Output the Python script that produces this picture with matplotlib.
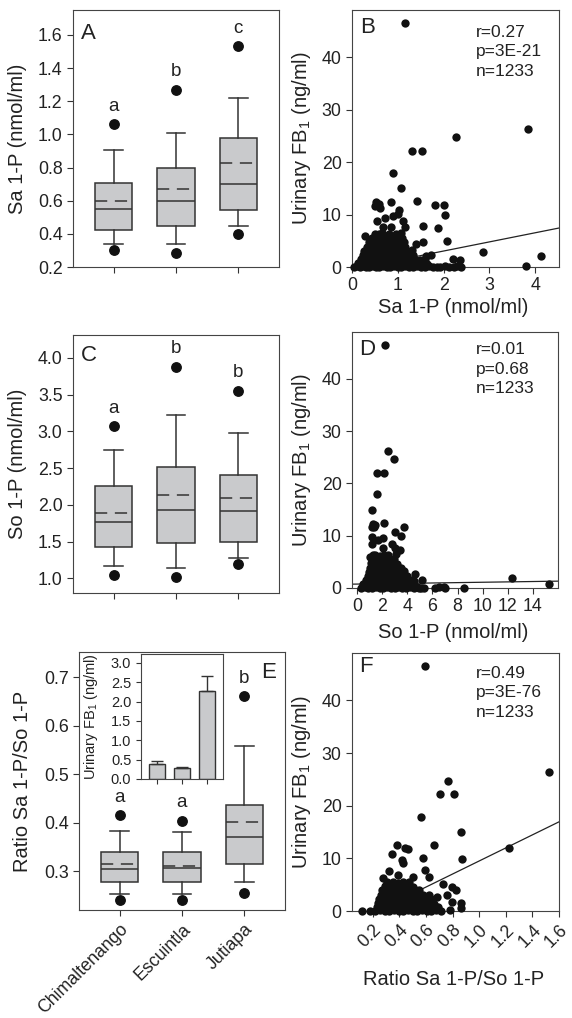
import matplotlib
matplotlib.use('Agg')
import matplotlib.pyplot as plt

plt.rcParams['font.family'] = ['Liberation Sans', 'DejaVu Sans']
plt.rcParams['mathtext.default'] = 'regular'

districts = ['Chimaltenango', 'Escuintla', 'Jutiapa']

# box plot summaries: 10th / 25th / 50th / 75th / 90th percentiles, mean, 5th and 95th (dots)
sa_p10 = [0.34, 0.34, 0.45]
sa_q1 = [0.425, 0.45, 0.545]
sa_med = [0.55, 0.60, 0.70]
sa_mean = [0.597, 0.67, 0.825]
sa_q3 = [0.705, 0.80, 0.975]
sa_p90 = [0.905, 1.01, 1.22]
sa_p5 = [0.30, 0.285, 0.40]
sa_p95 = [1.06, 1.27, 1.53]
sa_letters = ['a', 'b', 'c']

so_p10 = [1.17, 1.145, 1.28]
so_q1 = [1.42, 1.48, 1.50]
so_med = [1.77, 1.93, 1.91]
so_mean = [1.89, 2.13, 2.09]
so_q3 = [2.26, 2.51, 2.41]
so_p90 = [2.75, 3.22, 2.98]
so_p5 = [1.05, 1.02, 1.19]
so_p95 = [3.07, 3.88, 3.55]
so_letters = ['a', 'b', 'b']

ratio_p10 = [0.254, 0.254, 0.278]
ratio_q1 = [0.278, 0.277, 0.314]
ratio_med = [0.3055, 0.307, 0.3695]
ratio_mean = [0.314, 0.311, 0.4005]
ratio_q3 = [0.340, 0.3386, 0.437]
ratio_p90 = [0.382, 0.380, 0.559]
ratio_p5 = [0.2415, 0.2415, 0.256]
ratio_p95 = [0.4157, 0.404, 0.661]
ratio_letters = ['a', 'a', 'b']

# inset: urinary FB1 by district (mean + SE)
fb_mean = [0.38, 0.276, 2.28]
fb_se = [0.077, 0.044, 0.39]

# scatter points (x, urinary FB1)
pts_sa = [
    (1.15, 46.6), (3.85, 26.3), (2.26, 24.7), (1.30, 22.2), (1.52, 22.1), (0.89, 17.9),
    (1.07, 15.1), (0.52, 12.4), (0.58, 12.1), (0.50, 11.6), (0.62, 11.3), (0.86, 12.4),
    (1.43, 12.5), (1.81, 11.8), (2.00, 11.8), (2.02, 10.0), (1.03, 10.9), (1.01, 10.2),
    (0.89, 9.8), (0.73, 9.3), (0.54, 8.7), (1.12, 8.8), (1.54, 7.9), (1.87, 7.4),
    (0.85, 7.6), (0.68, 7.6), (1.16, 7.7), (0.28, 6.0), (2.07, 5.0), (1.56, 4.8),
    (1.40, 4.4), (2.87, 2.8), (4.12, 2.1), (2.21, 1.6), (2.36, 1.4), (3.80, 0.1),
    (0.05, 0.0), (0.10, 0.1), (0.17, 0.0), (0.24, 0.1), (0.31, 0.0), (0.38, 0.0), (0.45, 0.1),
    (0.52, 0.0), (0.60, 0.0), (0.68, 0.1), (0.76, 0.0), (0.84, 0.0), (0.92, 0.1), (1.00, 0.0),
    (1.08, 0.0), (1.16, 0.1), (1.25, 0.0), (1.33, 0.0), (1.42, 0.1), (1.50, 0.0), (1.60, 0.0),
    (1.68, 0.1), (1.76, 0.0), (1.85, 0.0), (1.93, 0.0), (2.03, 0.1), (2.12, 0.0), (2.22, 0.0),
    (2.30, 0.1), (2.38, 0.0),
    (0.14, 0.7), (0.22, 0.8), (0.30, 0.6), (0.38, 0.7), (0.46, 0.8), (0.54, 0.7), (0.62, 0.6),
    (0.70, 0.8), (0.78, 0.7), (0.86, 0.7), (0.94, 0.8), (1.02, 0.6), (1.10, 0.7), (1.18, 0.8),
    (1.27, 0.7), (1.36, 0.6), (1.45, 0.8), (1.55, 0.7), (1.64, 0.6),
    (0.20, 1.5), (0.28, 1.4), (0.36, 1.6), (0.44, 1.5), (0.52, 1.4), (0.60, 1.6), (0.68, 1.5),
    (0.76, 1.5), (0.84, 1.4), (0.92, 1.6), (1.00, 1.5), (1.08, 1.5), (1.17, 1.4), (1.26, 1.6),
    (1.36, 1.5), (1.48, 1.4), (1.60, 1.5), (1.72, 2.3),
    (0.23, 2.3), (0.31, 2.4), (0.39, 2.2), (0.47, 2.3), (0.55, 2.4), (0.63, 2.3), (0.71, 2.2),
    (0.79, 2.3), (0.87, 2.4), (0.95, 2.3), (1.03, 2.2), (1.12, 2.3), (1.22, 2.4), (1.33, 2.2),
    (1.62, 2.1),
    (0.27, 3.1), (0.35, 3.2), (0.43, 3.0), (0.51, 3.1), (0.59, 3.2), (0.67, 3.1), (0.75, 3.0),
    (0.83, 3.1), (0.91, 3.2), (0.99, 3.1), (1.08, 3.0), (1.18, 3.1), (1.30, 3.2),
    (0.33, 3.9), (0.41, 4.0), (0.49, 3.8), (0.57, 3.9), (0.65, 4.0), (0.73, 3.9), (0.81, 3.8),
    (0.89, 3.9), (0.97, 4.0), (1.06, 3.9), (1.16, 3.8),
    (0.38, 4.7), (0.46, 4.8), (0.54, 4.6), (0.62, 4.7), (0.70, 4.8), (0.78, 4.7), (0.86, 4.6),
    (0.95, 4.7), (1.05, 4.8), (1.14, 4.7),
    (0.44, 5.5), (0.52, 5.6), (0.60, 5.4), (0.68, 5.5), (0.77, 5.6), (0.88, 5.5), (1.00, 5.4),
    (1.10, 5.5),
    (0.50, 6.3), (0.58, 6.2), (0.66, 6.4), (0.80, 6.3), (0.96, 6.2), (1.08, 6.4),
]

pts_so = [
    (2.20, 46.6), (2.49, 26.3), (2.92, 24.6), (1.57, 22.1), (2.12, 22.1), (1.56, 17.9),
    (1.22, 15.0), (1.30, 12.2), (1.38, 11.7), (1.22, 11.6), (1.46, 12.0), (2.15, 12.4),
    (3.02, 10.7), (3.74, 11.6), (3.48, 9.9), (1.20, 9.8), (1.17, 8.5), (1.67, 9.2),
    (2.07, 9.6), (2.75, 8.5), (3.00, 7.6), (3.40, 7.3), (3.10, 6.6), (2.05, 7.6),
    (1.05, 6.0), (1.30, 6.3), (4.62, 2.7), (5.20, 1.6), (12.3, 2.0), (15.3, 0.7),
    (8.5, 0.0), (6.2, 0.0), (6.5, 0.2), (6.9, 0.1), (7.0, 0.0), (5.3, 0.0), (4.9, 0.0),
    (0.3, 0.0), (0.6, 0.1), (0.9, 0.0), (1.2, 0.0), (1.5, 0.1), (1.8, 0.0), (2.1, 0.0),
    (2.4, 0.1), (2.7, 0.0), (3.0, 0.0), (3.3, 0.1), (3.6, 0.0), (3.9, 0.0), (4.2, 0.1),
    (4.5, 0.0), (4.8, 0.1), (5.1, 0.0),
    (0.5, 0.7), (0.85, 0.8), (1.2, 0.6), (1.55, 0.7), (1.9, 0.8), (2.25, 0.7), (2.6, 0.6),
    (2.95, 0.8), (3.3, 0.7), (3.65, 0.7), (4.0, 0.8), (4.35, 0.6),
    (0.7, 1.5), (1.05, 1.4), (1.4, 1.6), (1.75, 1.5), (2.1, 1.4), (2.45, 1.6), (2.8, 1.5),
    (3.15, 1.5), (3.5, 1.4), (3.85, 1.6), (4.2, 1.5), (4.5, 1.4),
    (0.85, 2.3), (1.2, 2.4), (1.55, 2.2), (1.9, 2.3), (2.25, 2.4), (2.6, 2.3), (2.95, 2.2),
    (3.3, 2.3), (3.65, 2.4), (4.0, 2.3),
    (0.95, 3.1), (1.3, 3.2), (1.65, 3.0), (2.0, 3.1), (2.35, 3.2), (2.7, 3.1), (3.05, 3.0),
    (3.4, 3.1), (3.75, 3.2),
    (1.05, 3.9), (1.4, 4.0), (1.75, 3.8), (2.1, 3.9), (2.45, 4.0), (2.8, 3.9), (3.15, 3.8),
    (3.5, 3.9),
    (1.1, 4.7), (1.45, 4.8), (1.8, 4.6), (2.15, 4.7), (2.5, 4.8), (2.85, 4.7), (3.2, 4.6),
    (1.2, 5.5), (1.55, 5.6), (1.9, 5.4), (2.25, 5.5), (2.6, 5.6), (2.95, 5.5),
    (1.45, 6.3), (1.8, 6.2), (2.15, 6.4), (2.5, 6.3),
]

pts_ratio = [
    (0.593, 46.6), (1.525, 26.4), (0.763, 24.7), (0.708, 22.2), (0.81, 22.2), (0.56, 17.9),
    (0.86, 15.1), (1.228, 11.9), (0.873, 9.9), (0.662, 12.5), (0.38, 12.5), (0.443, 12.0),
    (0.468, 11.8), (0.343, 10.8), (0.58, 10.0), (0.418, 9.7), (0.43, 9.1), (0.593, 7.8),
    (0.28, 6.2), (0.323, 7.6), (0.393, 6.9), (0.505, 6.5), (0.623, 6.5), (0.725, 5.2),
    (0.793, 4.5), (0.825, 4.0), (0.755, 3.1), (0.68, 2.6), (0.797, 1.8), (0.86, 1.6),
    (0.86, 0.6), (0.78, 0.1), (0.118, 0.05), (0.18, 0.05),
    (0.22, 0.0), (0.255, 0.1), (0.29, 0.0), (0.325, 0.0), (0.36, 0.1), (0.395, 0.0), (0.43, 0.0),
    (0.465, 0.1), (0.50, 0.0), (0.535, 0.0), (0.57, 0.1), (0.605, 0.0), (0.64, 0.0),
    (0.675, 0.1), (0.71, 0.0),
    (0.23, 0.7), (0.265, 0.8), (0.30, 0.6), (0.335, 0.7), (0.37, 0.8), (0.405, 0.7), (0.44, 0.6),
    (0.475, 0.8), (0.51, 0.7), (0.545, 0.7), (0.58, 0.8), (0.615, 0.6), (0.65, 0.7), (0.69, 0.8),
    (0.24, 1.5), (0.275, 1.4), (0.31, 1.6), (0.345, 1.5), (0.38, 1.4), (0.415, 1.6), (0.45, 1.5),
    (0.485, 1.5), (0.52, 1.4), (0.555, 1.6), (0.59, 1.5), (0.625, 1.5), (0.66, 1.4),
    (0.25, 2.3), (0.285, 2.4), (0.32, 2.2), (0.355, 2.3), (0.39, 2.4), (0.425, 2.3), (0.46, 2.2),
    (0.495, 2.3), (0.53, 2.4), (0.565, 2.3), (0.60, 2.2), (0.64, 2.3),
    (0.26, 3.1), (0.295, 3.2), (0.33, 3.0), (0.365, 3.1), (0.40, 3.2), (0.435, 3.1), (0.47, 3.0),
    (0.505, 3.1), (0.54, 3.2), (0.58, 3.1), (0.62, 3.0),
    (0.27, 3.9), (0.305, 4.0), (0.34, 3.8), (0.375, 3.9), (0.41, 4.0), (0.445, 3.9), (0.48, 3.8),
    (0.515, 3.9), (0.55, 4.0),
    (0.29, 4.7), (0.325, 4.8), (0.36, 4.6), (0.395, 4.7), (0.43, 4.8), (0.465, 4.7), (0.50, 4.6),
    (0.31, 5.5), (0.35, 5.6), (0.39, 5.4), (0.43, 5.5), (0.47, 5.6),
]

# regression lines (intercept, slope) and stats
fit_sa = (-0.43, 1.74)
fit_so = (0.75, 0.035)
fit_ratio = (-2.9, 12.4)
stats_sa = ['r=0.27', 'p=3E-21', 'n=1233']
stats_so = ['r=0.01', 'p=0.68', 'n=1233']
stats_ratio = ['r=0.49', 'p=3E-76', 'n=1233']

EDGE = '#333333'
TXT = '#222222'
FILL = '#c9cacc'


def style(ax):
    for s in ax.spines.values():
        s.set_color('#444444')
        s.set_linewidth(0.8)
    ax.tick_params(direction='out', length=4, width=0.8, color=EDGE,
                   labelsize=12.8, labelcolor=TXT, top=False, right=False)


def boxpanel(ax, p5, p10, q1, med, mean, q3, p90, p95, letters, ylim, yticks, ytl, ylabel, tag, tagpos, ylab_x):
    stats = []
    for i in range(3):
        stats.append(dict(whislo=p10[i], q1=q1[i], med=med[i], q3=q3[i], whishi=p90[i],
                          mean=mean[i], fliers=[p5[i], p95[i]]))
    lk = dict(color=EDGE, lw=1.1)
    ax.bxp(stats, positions=[1, 2, 3], widths=0.6, capwidths=0.3, patch_artist=True,
           showmeans=True, meanline=True,
           boxprops=dict(facecolor=FILL, edgecolor=EDGE, lw=1.1),
           medianprops=lk, whiskerprops=lk, capprops=lk,
           meanprops=dict(color=EDGE, lw=1.1, linestyle=(0, (8, 5))),
           flierprops=dict(marker='o', mfc='#111111', mec='#111111', ms=6.8))
    ax.set_xlim(0.35, 3.65)
    ax.set_ylim(*ylim)
    ax.set_yticks(yticks)
    ax.set_yticklabels(ytl)
    ax.set_xticks([1, 2, 3])
    ax.set_xticklabels(['', '', ''])
    off = 0.07 * (ylim[1] - ylim[0])
    for i in range(3):
        ax.text(i + 1, p95[i] + off, letters[i], ha='center', va='center', fontsize=13.5, color=TXT)
    ax.set_ylabel(ylabel, fontsize=14.5, color=TXT)
    ax.yaxis.set_label_coords(ylab_x, 0.5)
    ax.text(tagpos[0], tagpos[1], tag, transform=ax.transAxes, ha='center', va='center',
            fontsize=16, color=TXT)
    style(ax)


def scatpanel(ax, pts, fit, xlim, xticks, xtl, xlabel, xlab_y, stats, tag, tagpos, stat_y):
    xs = [p[0] for p in pts]
    ys = [p[1] for p in pts]
    ax.plot([xlim[0], xlim[1]], [fit[0] + fit[1] * xlim[0], fit[0] + fit[1] * xlim[1]],
            color='#222222', lw=0.9, zorder=2)
    ax.scatter(xs, ys, s=36, c='#111111', linewidths=0, zorder=3, clip_on=False)
    ax.set_xlim(*xlim)
    ax.set_ylim(0, 49)
    ax.set_yticks([0, 10, 20, 30, 40])
    ax.set_xticks(xticks)
    ax.set_xticklabels(xtl)
    ax.set_ylabel('Urinary FB$_1$ (ng/ml)', fontsize=14.5, color=TXT)
    ax.yaxis.set_label_coords(-0.19, 0.5)
    ax.set_xlabel(xlabel, fontsize=14.5, color=TXT)
    ax.xaxis.set_label_coords(0.49, xlab_y)
    ax.text(tagpos[0], tagpos[1], tag, transform=ax.transAxes, ha='center', va='center',
            fontsize=16, color=TXT)
    for k, s in enumerate(stats):
        ax.text(0.6, stat_y - k * 0.076, s, transform=ax.transAxes, ha='left', va='center',
                fontsize=12.5, color=TXT)
    style(ax)


fig = plt.figure(figsize=(5.72, 10.18), dpi=100)
axA = fig.add_axes([0.1276, 0.7377, 0.3601, 0.2525])
axB = fig.add_axes([0.6154, 0.7377, 0.3619, 0.2525])
axC = fig.add_axes([0.1276, 0.4175, 0.3601, 0.2534])
axD = fig.add_axes([0.6154, 0.4224, 0.3601, 0.2515])
axE = fig.add_axes([0.1381, 0.1061, 0.3601, 0.2534])
axF = fig.add_axes([0.6154, 0.1051, 0.3619, 0.2534])

boxpanel(axA, sa_p5, sa_p10, sa_q1, sa_med, sa_mean, sa_q3, sa_p90, sa_p95, sa_letters,
         (0.2, 1.75), [0.2, 0.4, 0.6, 0.8, 1.0, 1.2, 1.4, 1.6],
         ['0.2', '0.4', '0.6', '0.8', '1.0', '1.2', '1.4', '1.6'],
         'Sa 1-P (nmol/ml)', 'A', (0.075, 0.91), -0.223)
boxpanel(axC, so_p5, so_p10, so_q1, so_med, so_mean, so_q3, so_p90, so_p95, so_letters,
         (0.8, 4.31), [1.0, 1.5, 2.0, 2.5, 3.0, 3.5, 4.0],
         ['1.0', '1.5', '2.0', '2.5', '3.0', '3.5', '4.0'],
         'So 1-P (nmol/ml)', 'C', (0.075, 0.92), -0.223)
boxpanel(axE, ratio_p5, ratio_p10, ratio_q1, ratio_med, ratio_mean, ratio_q3, ratio_p90, ratio_p95,
         ratio_letters, (0.22, 0.752), [0.3, 0.4, 0.5, 0.6, 0.7],
         ['0.3', '0.4', '0.5', '0.6', '0.7'],
         'Ratio Sa 1-P/So 1-P', 'E', (0.92, 0.92), -0.228)
axE.set_xticklabels(districts, rotation=45, ha='right', va='top', rotation_mode='anchor')

scatpanel(axB, pts_sa, fit_sa, (0, 4.52), [0, 1, 2, 3, 4], ['0', '1', '2', '3', '4'],
          'Sa 1-P (nmol/ml)', -0.12, stats_sa, 'B', (0.077, 0.93), 0.914)
scatpanel(axD, pts_so, fit_so, (-0.4, 16), [0, 2, 4, 6, 8, 10, 12, 14],
          ['0', '2', '4', '6', '8', '10', '12', '14'],
          'So 1-P (nmol/ml)', -0.137, stats_so, 'D', (0.073, 0.93), 0.93)
scatpanel(axF, pts_ratio, fit_ratio, (0.045, 1.6), [0.2, 0.4, 0.6, 0.8, 1.0, 1.2, 1.4, 1.6],
          ['0.2', '0.4', '0.6', '0.8', '1.0', '1.2', '1.4', '1.6'],
          'Ratio Sa 1-P/So 1-P', -0.229, stats_ratio, 'F', (0.068, 0.946), 0.922)
axF.set_xticklabels(['0.2', '0.4', '0.6', '0.8', '1.0', '1.2', '1.4', '1.6'],
                    rotation=45, ha='right', va='top', rotation_mode='anchor')

# inset bar chart in panel E
axI = fig.add_axes([0.2465, 0.2348, 0.1434, 0.1228])
axI.bar([1, 2, 3], fb_mean, width=0.64, color=FILL, edgecolor=EDGE, lw=1.0,
        yerr=[[0, 0, 0], fb_se], capsize=4,
        error_kw=dict(ecolor=EDGE, elinewidth=1.0, capthick=1.0))
axI.set_xlim(0.35, 3.65)
axI.set_ylim(0, 3.23)
axI.set_yticks([0.0, 0.5, 1.0, 1.5, 2.0, 2.5, 3.0])
axI.set_yticklabels(['0.0', '0.5', '1.0', '1.5', '2.0', '2.5', '3.0'])
axI.set_xticks([1, 2, 3])
axI.set_xticklabels(['', '', ''])
axI.set_ylabel('Urinary FB$_1$ (ng/ml)', fontsize=10.5, color=TXT)
axI.yaxis.set_label_coords(-0.5, 0.5)
style(axI)
axI.tick_params(labelsize=10.5, length=3.5)

fig.savefig('out.png', dpi=100)
